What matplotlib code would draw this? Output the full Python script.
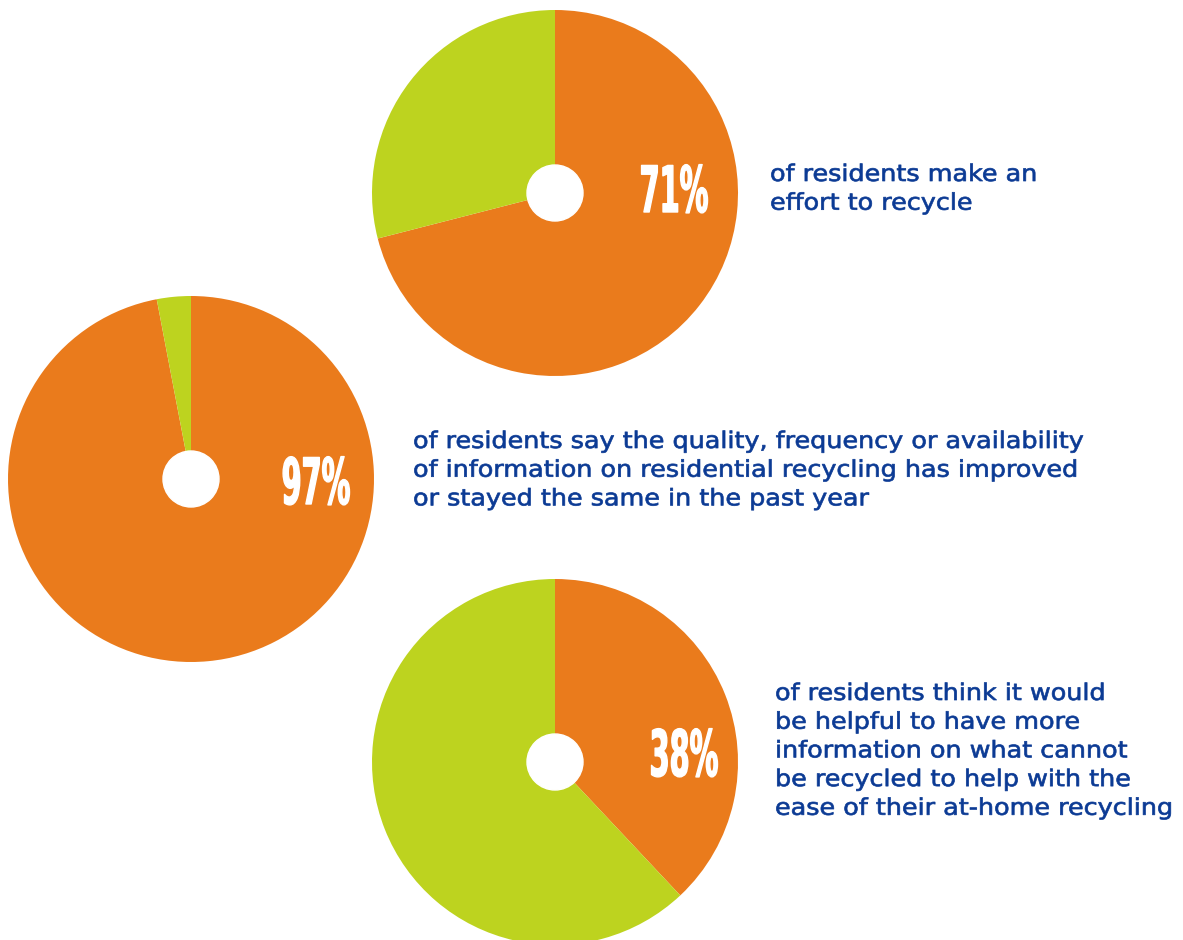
import matplotlib.pyplot as plt
from matplotlib.patheffects import AbstractPathEffect
from matplotlib.transforms import Affine2D

# data: orange share per pie (percent), rest is green
shares = [71, 97, 38]
labels = ["71%", "97%", "38%"]
captions = [
    ["of residents make an", "effort to recycle"],
    ["of residents say the quality, frequency or availability",
     "of information on residential recycling has improved",
     "or stayed the same in the past year"],
    ["of residents think it would", "be helpful to have more",
     "information on what cannot", "be recycled to help with the",
     "ease of their at-home recycling"],
]

orange = "#EA7B1C"
green = "#BDD31F"
navy = "#0B3A94"


class Stretch(AbstractPathEffect):
    """scale text horizontally about x0 (display px), optional outline"""

    def __init__(self, x0, sx, stroke=0, color=None):
        super().__init__()
        self.x0, self.sx = x0, sx
        self.stroke, self.color = stroke, color

    def draw_path(self, renderer, gc, tpath, affine, rgbFace=None):
        tr = affine + Affine2D().translate(-self.x0, 0).scale(self.sx, 1).translate(self.x0, 0)
        renderer.draw_path(gc, tpath, tr, rgbFace)
        if self.stroke:
            gc0 = renderer.new_gc()
            gc0.copy_properties(gc)
            gc0.set_linewidth(self.stroke)
            gc0.set_foreground(self.color)
            renderer.draw_path(gc0, tpath, tr, None)
            gc0.restore()


W, H = 1183, 940
fig = plt.figure(figsize=(W / 100, H / 100), dpi=100)
ax = fig.add_axes([0, 0, 1, 1])

# layout in pixel coords (y measured from top)
centers = [(555, 193), (191, 479), (555, 762)]
radius = 183
hole = 28
label_pos = [(674, 212), (316, 504), (684, 776)]   # centre x, baseline y
text_pos = [(770, 181), (413, 448), (775, 700)]    # left x, first baseline
line_gap = 28.7

for (cx, cy), share, lab, (lx, ly), cap, (tx, ty) in zip(
        centers, shares, labels, label_pos, captions, text_pos):
    ax.pie([share, 100 - share], colors=[orange, green], startangle=90,
           counterclock=False, center=(cx, H - cy), radius=radius,
           wedgeprops=dict(linewidth=0))
    ax.add_patch(plt.Circle((cx, H - cy), hole, color="white", zorder=3))
    ax.text(lx, H - ly, lab, color="white", fontsize=46, fontweight="bold",
            family="DejaVu Sans", ha="center", va="baseline", zorder=4,
            path_effects=[Stretch(lx, 0.45, stroke=1.0, color="white")])
    for i, line in enumerate(cap):
        ax.text(tx, H - (ty + i * line_gap), line, color=navy, fontsize=16.5,
                family="DejaVu Sans", ha="left", va="baseline", zorder=4,
                path_effects=[Stretch(tx, 1.11, stroke=0.5, color=navy)])

ax.set_xlim(0, W)
ax.set_ylim(0, H)
ax.set_aspect("equal")
ax.axis("off")

fig.savefig("out.png", dpi=100)
